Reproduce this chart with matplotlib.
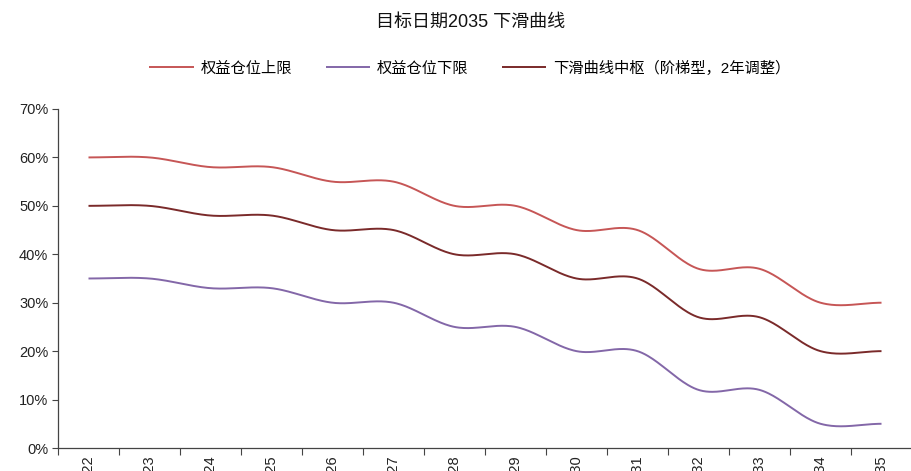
import numpy as np
import matplotlib
matplotlib.use("Agg")
import matplotlib.pyplot as plt
from matplotlib.ticker import PercentFormatter

years = [str(y) for y in range(2022, 2036)]
upper = [60, 60, 58, 58, 55, 55, 50, 50, 45, 45, 37, 37, 30, 30]
lower = [35, 35, 33, 33, 30, 30, 25, 25, 20, 20, 12, 12, 5, 5]
middle = [50, 50, 48, 48, 45, 45, 40, 40, 35, 35, 27, 27, 20, 20]

names = ["权益仓位上限", "权益仓位下限", "下滑曲线中枢（阶梯型，2年调整）"]
colors = ["#C65656", "#8367A8", "#7A2A2A"]

CJK = ["Liberation Sans", "Noto Sans CJK SC", "DejaVu Sans"]
plt.rcParams["font.family"] = CJK


def smooth(y, n=40):
    """Catmull-Rom smoothing (Excel-style smoothed line) for rendering."""
    y = np.asarray(y, float)
    x = np.arange(len(y), dtype=float)
    p = np.concatenate([[y[0]], y, [y[-1]]])
    xs, ys = [], []
    for i in range(len(y) - 1):
        p0, p1, p2, p3 = p[i], p[i + 1], p[i + 2], p[i + 3]
        m1 = (p2 - p0) / 2.0
        m2 = (p3 - p1) / 2.0
        t = np.linspace(0, 1, n, endpoint=(i == len(y) - 2))
        h00 = 2 * t**3 - 3 * t**2 + 1
        h10 = t**3 - 2 * t**2 + t
        h01 = -2 * t**3 + 3 * t**2
        h11 = t**3 - t**2
        xs.append(x[i] + t)
        ys.append(h00 * p1 + h10 * m1 + h01 * p2 + h11 * m2)
    return np.concatenate(xs), np.concatenate(ys)


fig = plt.figure(figsize=(9.12, 4.71), dpi=100)
ax = fig.add_axes([58 / 912, 23 / 471, 854 / 912, 339 / 471])

handles = []
for vals, name, c in zip([upper, lower, middle], names, colors):
    xs, ys = smooth(vals)
    h, = ax.plot(xs, ys, color=c, lw=1.4, label=name, solid_capstyle="butt")
    handles.append(h)

ax.set_xlim(-0.5, len(years) - 0.5)
ax.set_ylim(0, 70)
ax.set_yticks(range(0, 71, 10))
ax.yaxis.set_major_formatter(PercentFormatter(decimals=0))

ax.set_xticks(range(len(years)))
ax.set_xticklabels(years, rotation=90, fontsize=10.5, color="#222222")
ax.set_xticks(np.arange(-0.5, len(years), 1.0), minor=True)
ax.tick_params(axis="x", which="major", length=0, pad=5)
ax.tick_params(axis="x", which="minor", length=5, width=0.8, color="#444444", direction="out")
ax.tick_params(axis="y", length=4, width=0.8, color="#444444", labelsize=10.5,
               labelcolor="#222222", pad=3)

for s in ["top", "right"]:
    ax.spines[s].set_visible(False)
for s in ["left", "bottom"]:
    ax.spines[s].set_color("#444444")
    ax.spines[s].set_linewidth(0.9)

fig.text(471 / 912, 1 - 22 / 471, "目标日期2035 下滑曲线", ha="center", va="center",
         fontsize=13, color="#111111")

order = [0, 1, 2]
fig.legend([handles[i] for i in order], [names[i] for i in order],
           loc="center", bbox_to_anchor=(470 / 912, 1 - 68 / 471), ncol=3,
           frameon=False, fontsize=11, handlelength=2.9, handletextpad=0.45,
           columnspacing=2.2, prop={"family": CJK, "size": 11})

fig.savefig("out.png", dpi=100)
